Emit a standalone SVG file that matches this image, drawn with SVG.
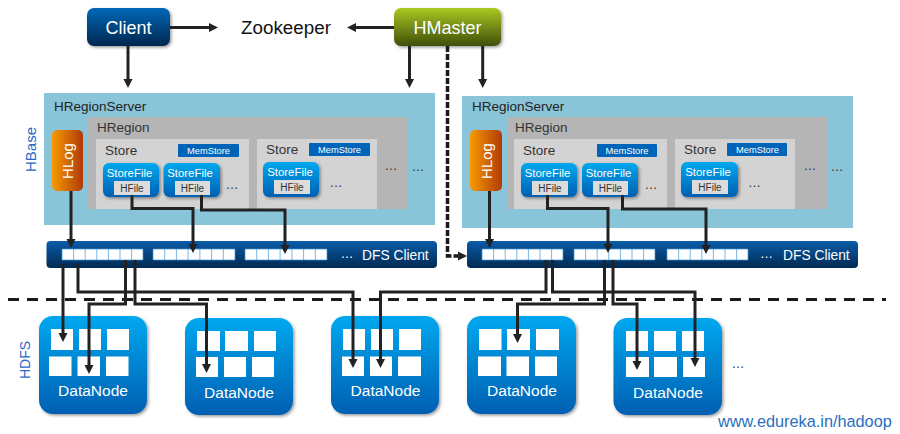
<svg xmlns="http://www.w3.org/2000/svg" width="900" height="434" viewBox="0 0 900 434">
<style>
text{font-family:"Liberation Sans",Arial,sans-serif}
.srv{fill:#8ac4d8}.reg{fill:#b5b5b5}.sto{fill:#d3d3d3}
.t{font-size:13.5px;fill:#222}
.rt{font-size:13.5px;fill:#333}
.m{font-size:9.3px;fill:#fff;text-anchor:middle;font-weight:500}
.sf{font-size:11.4px;fill:#fff;text-anchor:middle}
.hf{font-size:10px;fill:#333;text-anchor:middle}
.hfb{fill:#dcdcdc}
.mb{fill:#0064b8}
.dots{font-size:13px;fill:#333;text-anchor:middle}
.dn{font-size:15.5px;fill:#fff;text-anchor:middle}
.cell{fill:#fff}
.lbl{font-size:15px;fill:#2a68c8;text-anchor:middle}
.big{font-size:18px;fill:#fff;text-anchor:middle}
.dfs{font-size:13.8px;fill:#fff}
.c{fill:none;stroke:#222;stroke-width:3}
.ca{fill:none;stroke:#222;stroke-width:3;marker-end:url(#arr)}
.dash{fill:none;stroke:#1a1a1a;stroke-width:3;stroke-dasharray:11 8}
.cs{fill:#fff;stroke:#3f9ad8;stroke-width:.7}
</style>
<defs>
<linearGradient id="gC" x1="0" y1="0" x2="0" y2="1"><stop offset="0" stop-color="#0068b8"/><stop offset="1" stop-color="#00264f"/></linearGradient>
<linearGradient id="gM" x1="0" y1="0" x2="0" y2="1"><stop offset="0" stop-color="#aac822"/><stop offset="1" stop-color="#3f4f0a"/></linearGradient>
<linearGradient id="gL" x1="0" y1="0" x2="1" y2="0"><stop offset="0" stop-color="#f79a00"/><stop offset="1" stop-color="#b03a08"/></linearGradient>
<linearGradient id="gS" x1="0" y1="0" x2="0" y2="1"><stop offset="0" stop-color="#00a8ef"/><stop offset="1" stop-color="#005fb2"/></linearGradient>
<linearGradient id="gD" x1="0" y1="0" x2="0" y2="1"><stop offset="0" stop-color="#0a5ca8"/><stop offset="1" stop-color="#012a52"/></linearGradient>
<filter id="sh" x="-10%" y="-10%" width="125%" height="125%"><feDropShadow dx="1.5" dy="1.5" stdDeviation="1.5" flood-color="#000" flood-opacity=".4"/></filter>
<marker id="arr" markerUnits="userSpaceOnUse" markerWidth="10" markerHeight="10" refX="1" refY="5" orient="auto"><path d="M0 .5L9 5L0 9.500Z" fill="#222"/></marker>
</defs>

<g id="client"><rect x="87" y="8" width="83" height="38" rx="7" fill="url(#gC)" filter="url(#sh)"/><text class="big" x="128.500" y="34">Client</text></g>
<g id="zookeeper"><text x="286" y="34" font-size="18.800" fill="#111" text-anchor="middle">Zookeeper</text></g>
<g id="hmaster"><rect x="394" y="8" width="107" height="38" rx="7" fill="url(#gM)" filter="url(#sh)"/><text class="big" x="447.500" y="34">HMaster</text></g>
<g id="hbase-label"><text class="lbl" transform="translate(36 149.500) rotate(-90)">HBase</text></g>
<g id="hdfs-label"><text class="lbl" style="font-size:14px" transform="translate(30 360) rotate(-90)">HDFS</text></g>

<g id="server1">
<rect class="srv" x="44" y="93" width="391" height="132"/>
<text class="t" x="54" y="111">HRegionServer</text>
<rect class="reg" x="88" y="117" width="320" height="92"/>
<text class="rt" x="97" y="132">HRegion</text>
<rect class="sto" x="96" y="139" width="153" height="70"/>
<text class="rt" x="105" y="155">Store</text>
<rect class="mb" x="178" y="144" width="61" height="13" rx="1"/><text class="m" x="208.500" y="154">MemStore</text>
<rect x="103" y="163" width="56" height="34" rx="6" fill="url(#gS)" filter="url(#sh)"/><text class="sf" x="129.500" y="176.500">StoreFile</text>
<rect class="hfb" x="114" y="181" width="36" height="14"/><text class="hf" x="132" y="191.500">HFile</text>
<rect x="163.500" y="163" width="56.500" height="34" rx="6" fill="url(#gS)" filter="url(#sh)"/><text class="sf" x="190" y="176.500">StoreFile</text>
<rect class="hfb" x="175" y="181" width="35" height="14"/><text class="hf" x="192.500" y="191.500">HFile</text>
<text class="dots" x="232" y="189">…</text>
<rect class="sto" x="257" y="139" width="120" height="70"/>
<text class="rt" x="266" y="154">Store</text>
<rect class="mb" x="309" y="143" width="61" height="13" rx="1"/><text class="m" x="339.500" y="153">MemStore</text>
<rect x="263" y="162" width="56" height="35" rx="6" fill="url(#gS)" filter="url(#sh)"/><text class="sf" x="290" y="175.500">StoreFile</text>
<rect class="hfb" x="274" y="180" width="36" height="14"/><text class="hf" x="292" y="190.500">HFile</text>
<text class="dots" x="336" y="187">…</text>
<text class="dots" x="391" y="170">…</text>
<text class="dots" x="418" y="171">…</text>
<rect x="52" y="130" width="31" height="61" rx="5" fill="url(#gL)"/>
<text font-size="15" fill="#fff" text-anchor="middle" transform="translate(73 161) rotate(-90)">HLog</text>
</g>

<g id="server2">
<rect class="srv" x="462" y="96" width="391" height="132"/>
<text class="t" x="472" y="111">HRegionServer</text>
<rect class="reg" x="507" y="117" width="320" height="92"/>
<text class="rt" x="515" y="132">HRegion</text>
<rect class="sto" x="514" y="139" width="153" height="70"/>
<text class="rt" x="523" y="155">Store</text>
<rect class="mb" x="597" y="144" width="60" height="13" rx="1"/><text class="m" x="627" y="154">MemStore</text>
<rect x="521" y="163" width="56" height="34" rx="6" fill="url(#gS)" filter="url(#sh)"/><text class="sf" x="547.500" y="176.500">StoreFile</text>
<rect class="hfb" x="532" y="181" width="36" height="14"/><text class="hf" x="550" y="191.500">HFile</text>
<rect x="582" y="163" width="56" height="34" rx="6" fill="url(#gS)" filter="url(#sh)"/><text class="sf" x="608.500" y="176.500">StoreFile</text>
<rect class="hfb" x="593" y="181" width="35" height="14"/><text class="hf" x="610.500" y="191.500">HFile</text>
<text class="dots" x="651" y="189">…</text>
<rect class="sto" x="675" y="139" width="120" height="70"/>
<text class="rt" x="684" y="154">Store</text>
<rect class="mb" x="727" y="143" width="60" height="13" rx="1"/><text class="m" x="757.500" y="153">MemStore</text>
<rect x="681" y="162" width="57" height="35" rx="6" fill="url(#gS)" filter="url(#sh)"/><text class="sf" x="708" y="175.500">StoreFile</text>
<rect class="hfb" x="692" y="180" width="36" height="14"/><text class="hf" x="710" y="190.500">HFile</text>
<text class="dots" x="754.500" y="187">…</text>
<text class="dots" x="810" y="170">…</text>
<text class="dots" x="837" y="171">…</text>
<rect x="470" y="130" width="32" height="61" rx="5" fill="url(#gL)"/>
<text font-size="15" fill="#fff" text-anchor="middle" transform="translate(491.500 161) rotate(-90)">HLog</text>
</g>

<g id="dfs1">
<rect x="46.500" y="241" width="390.500" height="27" rx="4" fill="url(#gD)"/>
<g id="dfs1-cells">
<path class="cs" d="M62 249h81v11h-81zM73.600 249v11M85.200 249v11M96.800 249v11M108.400 249v11M120 249v11M131.600 249v11"/>
<path class="cs" d="M153 249h82v11h-82zM164.700 249v11M176.400 249v11M188.100 249v11M199.900 249v11M211.600 249v11M223.300 249v11"/>
<path class="cs" d="M245 249h82v11h-82zM256.700 249v11M268.400 249v11M280.100 249v11M291.900 249v11M303.600 249v11M315.300 249v11"/>
</g>
<text class="dots" x="347" y="257.500" style="fill:#fff">…</text>
<text class="dfs" x="362" y="260">DFS Client</text>
</g>

<g id="dfs2">
<rect x="467" y="241" width="391" height="27" rx="4" fill="url(#gD)"/>
<g id="dfs2-cells">
<path class="cs" d="M482 249h81v11h-81zM493.600 249v11M505.200 249v11M516.800 249v11M528.400 249v11M540 249v11M551.600 249v11"/>
<path class="cs" d="M574 249h81v11h-81zM585.600 249v11M597.200 249v11M608.800 249v11M620.400 249v11M632 249v11M643.600 249v11"/>
<path class="cs" d="M667 249h81v11h-81zM678.600 249v11M690.200 249v11M701.800 249v11M713.400 249v11M725 249v11M736.600 249v11"/>
</g>
<text class="dots" x="766.500" y="257.500" style="fill:#fff">…</text>
<text class="dfs" x="783" y="260">DFS Client</text>
</g>

<g id="datanode1"><rect x="39" y="316" width="108" height="98" rx="14" fill="url(#gS)" filter="url(#sh)"/>
<path class="cell" d="M51 329h22v21h-22zM79 329h22v21h-22zM107 329h22v21h-22zM49 356.500h22.500v19.500h-22.500zM77.500 356.500h22.500v19.500h-22.500zM106 356.500h22.500v19.500h-22.500z"/>
<text class="dn" x="93" y="396">DataNode</text></g>
<g id="datanode2"><rect x="185" y="318" width="108" height="97" rx="14" fill="url(#gS)" filter="url(#sh)"/>
<path class="cell" d="M197 331h23v20h-23zM225 331h23v20h-23zM254 331h22v20h-22zM196 357h22v20h-22zM224 357h22v20h-22zM252 357h22v20h-22z"/>
<text class="dn" x="239" y="398">DataNode</text></g>
<g id="datanode3"><rect x="331" y="316" width="108" height="98" rx="14" fill="url(#gS)" filter="url(#sh)"/>
<path class="cell" d="M343 329h22v21h-22zM371 329h22v21h-22zM399 329h22v21h-22zM342 356.500h22v19.500h-22zM370 356.500h22v19.500h-22zM398 356.500h23v19.500h-23z"/>
<text class="dn" x="385.500" y="396">DataNode</text></g>
<g id="datanode4"><rect x="467" y="316" width="109" height="98" rx="14" fill="url(#gS)" filter="url(#sh)"/>
<path class="cell" d="M479 329h22.500v21h-22.500zM507 329h23v21h-23zM536 329h23v21h-23zM478 356.500h23v19.500h-23zM506.500 356.500h22.500v19.500h-22.500zM535 356.500h22v19.500h-22z"/>
<text class="dn" x="522" y="396">DataNode</text></g>
<g id="datanode5"><rect x="613.500" y="318" width="108.500" height="97" rx="14" fill="url(#gS)" filter="url(#sh)"/>
<path class="cell" d="M626 331h22v20h-22zM654 331h22v20h-22zM682 331h22v20h-22zM626 357h23v20h-23zM654 357h23v20h-23zM683 357h22v20h-22z"/>
<text class="dn" x="668" y="398">DataNode</text></g>
<g id="more-nodes"><text class="dots" x="738" y="368">…</text></g>

<g id="connectors">
<path class="dash" d="M8 299.500H886"/>
<path class="ca" d="M170 27.500H210"/>
<path class="ca" d="M394 27.500H355"/>
<path class="ca" d="M128 46V80"/>
<path class="ca" d="M409.500 46V80"/>
<path class="ca" d="M482.700 46V80"/>
<path d="M447.500 46V256H459" fill="none" stroke="#1a1a1a" stroke-width="3.500" stroke-dasharray="6 2" marker-end="url(#arr)"/>
<path class="ca" d="M71 191V240"/>
<path class="ca" d="M132 195V208.500H193V245"/>
<path class="ca" d="M201.500 195V210H285V246"/>
<path class="ca" d="M489.500 191V240"/>
<path class="ca" d="M547.500 195V208.500H608V245"/>
<path class="ca" d="M622.500 195V209H706V246"/>
<path class="ca" d="M63 264V334"/>
<path class="ca" d="M78 264V292H353V360"/>
<path class="ca" d="M125.500 260V304H89V366"/>
<path class="ca" d="M135 260V304H206.500V365"/>
<path class="ca" d="M546 260V292H380.500V360"/>
<path class="ca" d="M552.500 260V292H695V359"/>
<path class="ca" d="M604.500 260V304H517.500V335"/>
<path class="ca" d="M613 260V304H637V362"/>
</g>

<g id="watermark"><text x="718" y="427" font-size="16.300" fill="#2a6fc0">www.edureka.in/hadoop</text></g>
</svg>
